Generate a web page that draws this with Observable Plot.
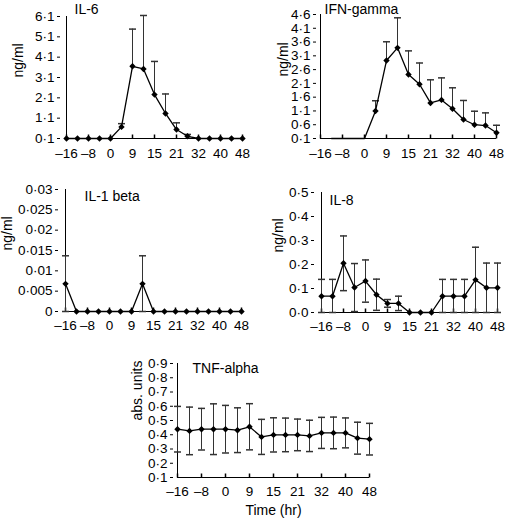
<!DOCTYPE html>
<html><head><meta charset="utf-8">
<script src="https://cdn.jsdelivr.net/npm/d3@7"></script>
<script src="https://cdn.jsdelivr.net/npm/@observablehq/plot@0.6"></script>
<style>
body{margin:0;background:#fff;}
#root{position:relative;width:512px;height:518px;overflow:hidden;}
#root svg{position:absolute;}
</style></head><body><div id="root"></div>
<script>
// sampling times (hr) and labelled ticks
const times = [-16,-12,-8,-4,0,4,9,12,15,18,21,27,32,36,40,44,48];
const tickTimes = [-16,-8,0,9,15,21,32,40,48];

// IL-6 (ng/ml): mean, SD (upper only)
const il6Mean = [0.1,0.1,0.1,0.1,0.1,0.67,3.65,3.52,2.26,1.33,0.54,0.21,0.1,0.1,0.1,0.1,0.1];
const il6Sd   = [0,0,0,0,0,0.16,1.83,2.63,1.63,0.96,0.33,0.09,0,0,0,0,0];
const il6Ticks = [0.1,1.1,2.1,3.1,4.1,5.1,6.1];

// IFN-gamma (ng/ml)
const ifnMean = [null,0.1,0.1,0.1,0.1,1.10,2.93,3.39,2.42,2.07,1.39,1.50,1.18,0.79,0.60,0.57,0.31];
const ifnSd   = [0,0,0,0,0,0.37,0.68,1.09,0.86,0.77,0.84,0.80,0.76,0.69,0.49,0.46,0.27];
const ifnTicks = [0.1,0.6,1.1,1.6,2.1,2.6,3.1,3.6,4.1,4.6];

// IL-1 beta (ng/ml)
const il1Mean = [0.0068,0,0,0,0,0,0,0.0068,0,0,0,0,0,0,0,0,0];
const il1Sd   = [0.0069,0,0,0,0,0,0,0.0069,0,0,0,0,0,0,0,0,0];
const il1Ticks = [0,0.005,0.01,0.015,0.02,0.025,0.03];

// IL-8 (ng/ml)
const il8Mean = [0.068,0.068,0.205,0.104,0.131,0.074,0.038,0.038,0,0,0,0.068,0.068,0.068,0.136,0.103,0.103];
const il8Sd   = [0.07,0.07,0.114,0.10,0.088,0.065,0.016,0.03,0,0,0,0.07,0.07,0.07,0.136,0.103,0.103];
const il8Ticks = [0,0.1,0.2,0.3,0.4,0.5];

// TNF-alpha (abs. units)
const tnfMean = [0.439,0.427,0.439,0.439,0.439,0.432,0.456,0.385,0.399,0.399,0.399,0.392,0.413,0.413,0.413,0.376,0.369];
const tnfSd   = [0.16,0.167,0.146,0.178,0.167,0.157,0.162,0.123,0.12,0.118,0.111,0.11,0.109,0.111,0.105,0.112,0.111];
const tnfTicks = [0.1,0.2,0.3,0.4,0.5,0.6,0.7,0.8,0.9];

const FONT = "'Liberation Sans', Arial, sans-serif";
const hLine = {draw(ctx, size){const r=Math.sqrt(size/Math.PI); ctx.moveTo(-r,0); ctx.lineTo(r,0);}};
const upLine = {draw(ctx, size){const r=Math.sqrt(size/Math.PI); ctx.moveTo(0,0); ctx.lineTo(0,-r);}};
const rhombus = {draw(ctx, size){const r=Math.sqrt(size/Math.PI); ctx.moveTo(0,-r); ctx.lineTo(r,0); ctx.lineTo(0,r); ctx.lineTo(-r,0); ctx.closePath();}};
const dotFmt = s => s.replace(".", "\u00b7");
const xFmt = d => d < 0 ? "\u2013" + (-d) : String(d);

function panel(o){
  const data = times.map((t,i)=>({t, m:o.mean[i], sd:o.sd[i]}));
  const withErr = data.filter(d=>d.sd>0 && d.m!=null);
  const lo = d => o.twoSided ? Math.max(o.yDomain[0], d.m - d.sd) : d.m;
  const hi = d => d.m + d.sd;
  const marks = [
    Plot.ruleX([times[0]], {y1: o.yDomain[0], y2: o.yDomain[1], stroke:"black"}),
    Plot.ruleY([o.yDomain[0]], {x1: times[0], x2: times[times.length-1], stroke:"black"}),
    Plot.axisY(o.yTicks, {tickSize:3, tickPadding:3, tickFormat:o.yFmt, label:null, fontSize:o.fs, fill:"black"}),
    Plot.axisX(tickTimes, {tickSize:0, tickPadding:o.xPad, tickFormat:xFmt, label:null, fontSize:o.fs, fill:"black"}),
    Plot.dot(tickTimes, {x:d=>d, y:()=>o.yDomain[0], symbol:upLine, r:4, stroke:"black", fill:"none"}),
    Plot.ruleX(withErr, {x:"t", y1:lo, y2:hi, stroke:"#333", strokeWidth:1}),
    Plot.dot(withErr, {x:"t", y:hi, symbol:hLine, r:3.5, stroke:"#333", fill:"none"}),
    o.twoSided ? Plot.dot(withErr, {x:"t", y:lo, symbol:hLine, r:3.5, stroke:"#333", fill:"none"}) : null,
    Plot.line(data.filter(d=>d.m!=null), {x:"t", y:"m", stroke:"black", strokeWidth:1.3}),
    Plot.dot(data.filter(d=>d.m!=null && d.t>=o.markFrom), {x:"t", y:"m", symbol:rhombus, r:3.2, fill:"black", stroke:"none"}),
    Plot.text([o.title], {frameAnchor:"top-left", textAnchor:"start", lineAnchor:"middle", dx:o.tdx, dy:o.tdy, fontSize:o.tfs, fill:"black"}),
    Plot.text([o.ylabel], {frameAnchor:"left", rotate:-90, lineAnchor:"middle", dx:o.ldx, fontSize:o.tfs, fill:"black"}),
    o.xlabel ? Plot.text([o.xlabel], {frameAnchor:"bottom", lineAnchor:"middle", dy:o.xldy, fontSize:o.tfs, fill:"black"}) : null
  ].filter(Boolean);
  const svg = Plot.plot({
    width:o.w, height:o.h,
    marginLeft:o.mL, marginRight:o.mR, marginTop:o.mT, marginBottom:o.mB,
    style:{fontFamily:FONT, fontSize:o.fs+"px", color:"black", background:"transparent", overflow:"visible"},
    x:{type:"point", domain:times, padding:0},
    y:{domain:o.yDomain},
    marks
  });
  svg.style.left = o.left+"px";
  svg.style.top = o.top+"px";
  document.getElementById("root").appendChild(svg);
}

const fs = 13.5, tfs = 14;

panel({left:0, top:0, w:256, h:170, mL:60, mR:8, mT:16, mB:32,
  yDomain:[0.1,6.1], yTicks:il6Ticks, yFmt:d=>dotFmt(d.toFixed(1)),
  mean:il6Mean, sd:il6Sd, twoSided:false, markFrom:-16,
  title:"IL-6", tdx:14, tdy:-7, ylabel:"ng/ml", ldx:-42, xPad:10, fs, tfs});

panel({left:256, top:0, w:256, h:170, mL:60, mR:12, mT:14, mB:32,
  yDomain:[0.1,4.6], yTicks:ifnTicks, yFmt:d=>dotFmt(d.toFixed(1)),
  mean:ifnMean, sd:ifnSd, twoSided:false, markFrom:4,
  title:"IFN-gamma", tdx:8, tdy:-5, ylabel:"ng/ml", ldx:-33, xPad:10, fs, tfs});

panel({left:0, top:170, w:256, h:165, mL:58, mR:9, mT:19, mB:24,
  yDomain:[0,0.03], yTicks:il1Ticks, yFmt:d=>d===0?"0":dotFmt(String(+d.toFixed(3))),
  mean:il1Mean, sd:il1Sd, twoSided:true, markFrom:-16,
  title:"IL-1 beta", tdx:26, tdy:7, ylabel:"ng/ml", ldx:-51, xPad:9, fs, tfs});

panel({left:256, top:170, w:256, h:165, mL:58, mR:9, mT:22, mB:23,
  yDomain:[0,0.5], yTicks:il8Ticks, yFmt:d=>dotFmt(d.toFixed(1)),
  mean:il8Mean, sd:il8Sd, twoSided:true, markFrom:-16,
  title:"IL-8", tdx:15, tdy:8, ylabel:"ng/ml", ldx:-36, xPad:9, fs, tfs});

panel({left:100, top:340, w:300, h:178, mL:73, mR:27, mT:23, mB:41,
  yDomain:[0.1,0.9], yTicks:tnfTicks, yFmt:d=>dotFmt(d.toFixed(1)),
  mean:tnfMean, sd:tnfSd, twoSided:true, markFrom:-16,
  title:"TNF-alpha", tdx:19, tdy:5, ylabel:"abs. units", ldx:-36, xlabel:"Time (hr)", xldy:33, xPad:9, fs, tfs});
</script></body></html>
